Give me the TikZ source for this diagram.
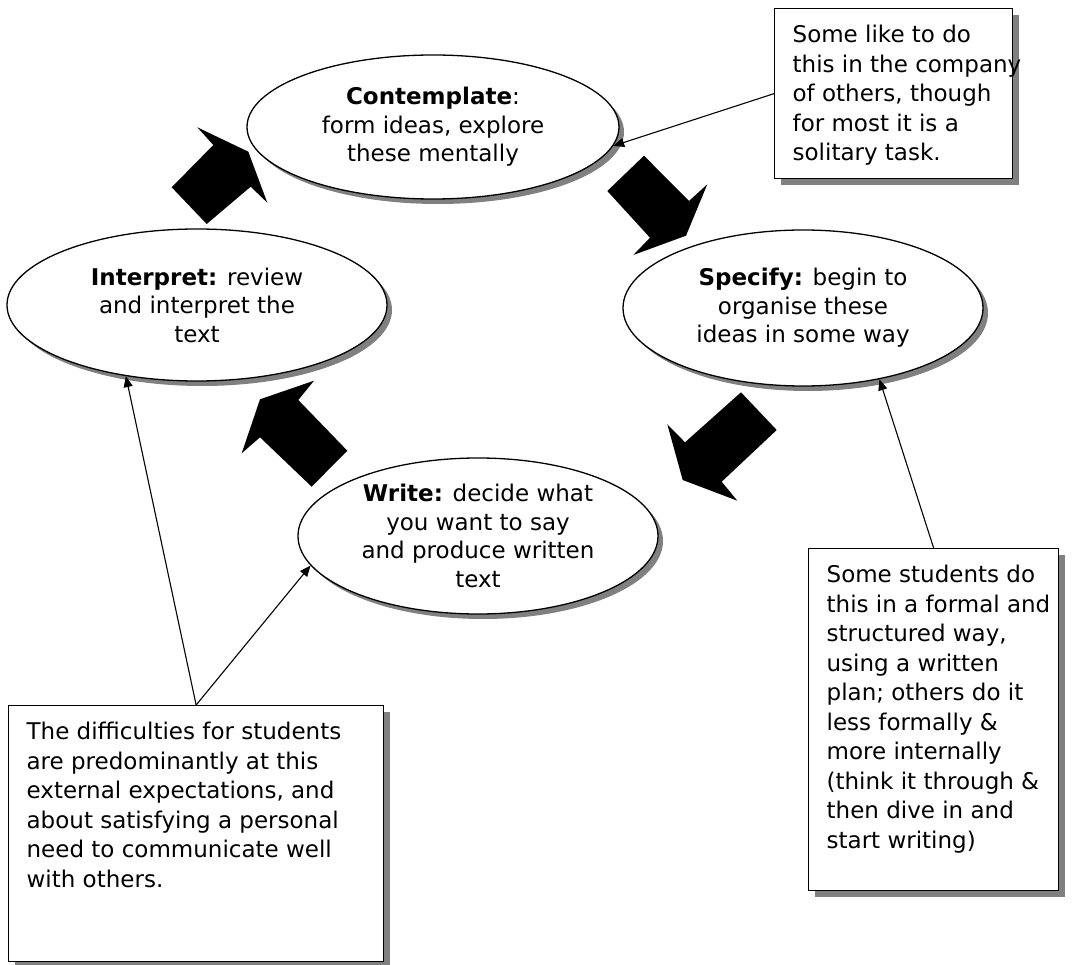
\documentclass[tikz,border=0pt]{standalone}
\usepackage{fontspec}
\setmainfont{DejaVu Sans}
\usetikzlibrary{shapes.geometric,arrows.meta,shadows}

% body text of a note box: a fixed frame (#1 wide, #2 high) whose lines may run past its right edge
\newcommand\notebody[3]{\makebox[#1][l]{\begin{minipage}[t][#2][t]{400pt}\raggedright #3\end{minipage}}}

\tikzset{
  stage/.style={ellipse, draw=black, line width=1.3pt, fill=white, inner sep=0pt, align=center,
    font=\fontsize{23}{28.5}\selectfont,
    drop shadow={shadow xshift=5pt, shadow yshift=-5pt, fill=black!50, opacity=1}},
  note/.style={rectangle, draw=black, line width=1.3pt, fill=white, anchor=north west,
    inner xsep=18pt, inner ysep=16.5pt,
    drop shadow={shadow xshift=6pt, shadow yshift=-6pt, fill=black!50, opacity=1}},
  pointer/.style={-{Triangle[length=11pt,width=9pt]}, line width=1.1pt},
  bigarrow/.style={fill=black, draw=none},
}

\begin{document}
\begin{tikzpicture}[x=1pt, y=-1pt, font=\fontsize{23}{29.5}\selectfont]
\useasboundingbox (0,0) rectangle (1074,965);

% the four stages of the cycle
\node[stage, minimum width=372pt, minimum height=144pt] (contemplate) at (433,127)
  {\textbf{Contemplate}:\\form ideas, explore\\these mentally};
\node[stage, minimum width=380pt, minimum height=152pt] (interpret) at (197,305)
  {\textbf{Interpret:} review\\and interpret the\\text};
\node[stage, minimum width=360pt, minimum height=156pt] (specify) at (803,308)
  {\textbf{Specify:} begin to\\organise these\\ideas in some way};
\node[stage, minimum width=360pt, minimum height=156pt] (write) at (478,536)
  {\textbf{Write:} decide what\\you want to say\\and produce written\\text};

% notes
\node[note] (tbox) at (774,8) {\notebody{202pt}{137pt}{%
  Some like to do\\this in the company\\of others, though\\for most it is a\\solitary task.}};
\node[note] (rbox) at (808,548) {\notebody{214pt}{309pt}{%
  Some students do\\this in a formal and\\structured way,\\using a written\\plan; others do it\\less formally \&\\more internally\\(think it through \&\\then dive in and\\start writing)}};
\node[note] (lbox) at (8,705) {\notebody{339pt}{223pt}{%
  The difficulties for students\\are predominantly at this\\external expectations, and\\about satisfying a personal\\need to communicate well\\with others.}};

% block arrows around the cycle
\fill[bigarrow] (248.3,151.7) -- (197.3,127.3) -- (213.3,145) -- (171.7,187.3)
  -- (206.7,224) -- (250.7,186.7) -- (267.3,202.7) -- cycle;
\fill[bigarrow] (644,155.7) -- (689,201) -- (707.3,184.3) -- (686,235.7)
  -- (633.3,255) -- (650,237.7) -- (607.3,191) -- cycle;
\fill[bigarrow] (741,392.3) -- (776.7,430) -- (721.7,481.7) -- (737.3,500.7)
  -- (682.7,480) -- (667.3,424.3) -- (685,442.3) -- cycle;
\fill[bigarrow] (314,380.7) -- (260,399.3) -- (241.7,453.3) -- (260,437.3)
  -- (311.7,486.7) -- (347.3,450.7) -- (298.3,400) -- cycle;

% pointers from notes to stages
\draw[pointer] (tbox.west) -- (contemplate.-6.5);
\draw[pointer] (rbox.north) -- (specify.-43.4);
\draw[pointer] (lbox.north) -- (interpret.-135);
\draw[pointer] (lbox.north) -- (write.190.2);
\end{tikzpicture}
\end{document}
